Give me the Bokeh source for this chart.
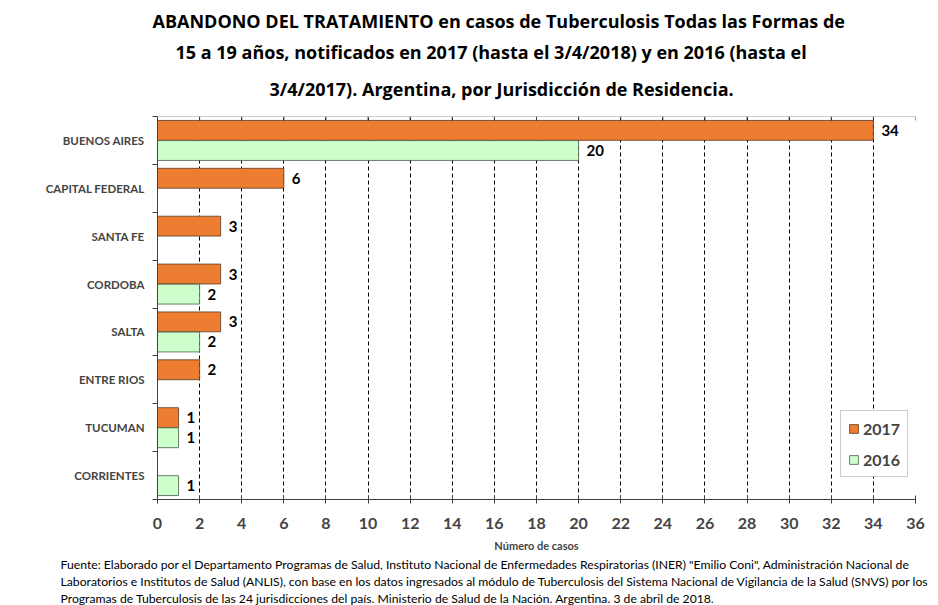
import math
from bokeh.plotting import figure
from bokeh.models import (ColumnDataSource, Range1d, FixedTicker, Span, Title,
                          Legend, LegendItem)
from bokeh.core.properties import value
from bokeh.embed import file_html
from bokeh.resources import INLINE

# ---- data ----
provincias = ["BUENOS AIRES", "CAPITAL FEDERAL", "SANTA FE", "CORDOBA",
              "SALTA", "ENTRE RIOS", "TUCUMAN", "CORRIENTES"]
casos_2017 = [34, 6, 3, 3, 3, 2, 1, 0]
casos_2016 = [20, 0, 0, 2, 2, 0, 1, 1]
x_ticks = list(range(0, 37, 2))
series_names = ["2017", "2016"]

title_lines = [
    "ABANDONO DEL TRATAMIENTO en casos de Tuberculosis Todas las Formas de",
    "15 a 19 años, notificados en 2017 (hasta el 3/4/2018) y en 2016 (hasta el",
    "3/4/2017). Argentina, por Jurisdicción de Residencia.",
]
foot_lines = [
    "Fuente: Elaborado por el Departamento Programas de Salud, Instituto Nacional de Enfermedades Respiratorias (INER) \"Emilio Coni\", Administración Nacional de",
    "Laboratorios e Institutos de Salud (ANLIS), con base en los datos ingresados al módulo de Tuberculosis del Sistema Nacional de Vigilancia de la Salud (SNVS) por los",
    "Programas de Tuberculosis de las 24 jurisdicciones del país. Ministerio de Salud de la Nación. Argentina. 3 de abril de 2018.",
]

ORANGE = "#ED7D31"
GREEN = "#CCFFCC"
FONT = "Lato"
TFONT = "Open Sans"

W, H = 938, 605
n = len(provincias)
centers = [n - i - 0.5 for i in range(n)]
off = 0.21
bh = 0.415

src17 = ColumnDataSource(dict(y=[c + off for c in centers], v=casos_2017,
                              lab=[str(v) if v else "" for v in casos_2017]))
src16 = ColumnDataSource(dict(y=[c - off for c in centers], v=casos_2016,
                              lab=[str(v) if v else "" for v in casos_2016]))

p = figure(width=W, height=H, output_backend="svg", toolbar_location=None,
           x_range=Range1d(0, 36), y_range=Range1d(0, n),
           min_border_left=157, min_border_right=23, min_border_top=116,
           min_border_bottom=103, x_axis_location="below")
p.outline_line_color = None
p.background_fill_color = "white"
p.border_fill_color = "white"

# grid
p.xgrid.ticker = FixedTicker(ticks=x_ticks)
p.xgrid.grid_line_color = "black"
p.xgrid.grid_line_dash = "4 3"
p.xgrid.grid_line_width = 1
p.ygrid.grid_line_color = None

r17 = p.hbar(y="y", right="v", left=0, height=bh, source=src17,
             fill_color=ORANGE, line_color="#5a3a20", line_width=0.8)
r16 = p.hbar(y="y", right="v", left=0, height=bh, source=src16,
             fill_color=GREEN, line_color="#4a5a4a", line_width=0.8)

for s in (src17, src16):
    p.text(x="v", y="y", text="lab", source=s, x_offset=8, text_baseline="middle",
           text_align="left", text_font=value(FONT), text_font_style="bold",
           text_font_size="15px", text_color="black")

# top frame line with tick marks
p.add_layout(Span(location=n, dimension="width", line_color="#999999", line_width=1))
p.scatter(x=x_ticks, y=[n] * len(x_ticks), marker="dash", angle=math.pi / 2,
          size=8, line_color="#404040", line_width=1)

# bottom axis
xa = p.xaxis[0]
xa.ticker = FixedTicker(ticks=x_ticks)
xa.major_tick_in = 4
xa.major_tick_out = 4
xa.minor_tick_in = 0
xa.minor_tick_out = 0
xa.axis_line_color = "#404040"
xa.major_tick_line_color = "#404040"
xa.major_label_text_font = FONT
xa.major_label_text_font_style = "bold"
xa.major_label_text_font_size = "16px"
xa.major_label_standoff = 14
xa.axis_label = "Número de casos"
xa.axis_label_text_font = FONT
xa.axis_label_text_font_style = "bold"
xa.axis_label_text_font_size = "11px"
xa.axis_label_standoff = 7

# left axis
ya = p.yaxis[0]
ya.ticker = FixedTicker(ticks=centers, minor_ticks=list(range(0, n + 1)))
ya.major_label_overrides = {c: name for c, name in zip(centers, provincias)}
ya.major_tick_in = 0
ya.major_tick_out = 0
ya.minor_tick_in = 0
ya.minor_tick_out = 5
ya.axis_line_color = "#404040"
ya.minor_tick_line_color = "#404040"
ya.major_label_text_font = FONT
ya.major_label_text_font_style = "bold"
ya.major_label_text_font_size = "11.5px"
ya.major_label_standoff = 8

# legend
leg = Legend(items=[LegendItem(label=series_names[0], renderers=[r17]),
                    LegendItem(label=series_names[1], renderers=[r16])],
             location=(683, 22), label_text_font=FONT, label_text_font_style="bold",
             label_text_font_size="16px", glyph_width=11, glyph_height=11,
             label_height=20, spacing=11, padding=7, margin=0,
             border_line_color="#999999", background_fill_color="white",
             background_fill_alpha=1.0, label_standoff=4)
p.add_layout(leg, "center")

# title lines (added nearest-first)
title_offsets = [-5, 18, 112]
title_standoffs = [9, 0, 27]
title_valign = ["bottom", "bottom", "top"]
for t, o, s, va in reversed(list(zip(title_lines, title_offsets, title_standoffs, title_valign))):
    p.add_layout(Title(text=t, align="left", offset=o, standoff=s, vertical_align=va,
                       text_font=TFONT, text_font_style="bold",
                       text_font_size="18px", text_color="black"), "above")

# footnote lines
for t in foot_lines:
    p.add_layout(Title(text=t, align="left", offset=-97, standoff=0,
                       text_font=FONT, text_font_style="normal",
                       text_font_size="12.2px", text_color="black"), "below")

open("out.html", "w").write(file_html(p, INLINE))
